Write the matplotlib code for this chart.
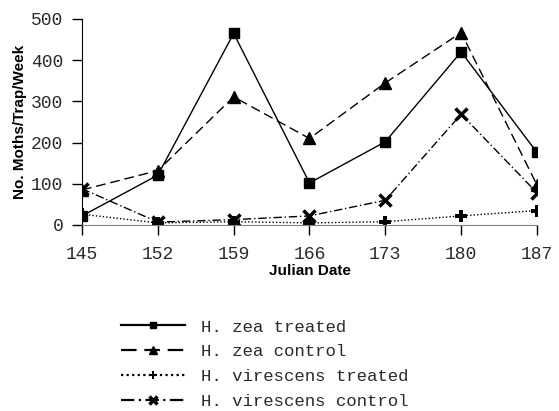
import matplotlib
matplotlib.use("Agg")
import matplotlib.pyplot as plt

# Julian dates and moth counts per trap per week
days = [145, 152, 159, 166, 173, 180, 187]
zea_treated = [22, 121, 465, 102, 202, 420, 176]
zea_control = [85, 132, 311, 210, 345, 467, 97]
vir_treated = [26, 5, 8, 5, 8, 22, 35]
vir_control = [88, 7, 13, 22, 60, 269, 78]

mono = "Liberation Mono"
ink = "#2a2a2a"

fig = plt.figure(figsize=(5.59, 4.11), dpi=100)
ax = fig.add_axes([0.1467, 0.4526, 0.8139, 0.5012])

l1, = ax.plot(days, zea_treated, color="black", lw=1.0, ls="-",
              marker="s", ms=7, label="H. zea treated")
l2, = ax.plot(days, zea_control, color="black", lw=1.0, ls=(0, (7, 3.5)),
              marker="^", ms=8, label="H. zea control")
l3, = ax.plot(days, vir_treated, color="black", lw=1.0, ls=(0, (1, 1.5)),
              marker="P", ms=9, mew=0, label="H. virescens treated")
l4, = ax.plot(days, vir_control, color="black", lw=1.0, ls=(0, (6, 2, 1, 2)),
              marker="x", ms=9, mew=2.5, label="H. virescens control")

ax.set_xlim(145, 187)
ax.set_ylim(0, 500)
ax.set_xticks(days)
ax.set_yticks([0, 100, 200, 300, 400, 500])
ax.spines["top"].set_visible(False)
ax.spines["right"].set_visible(False)
ax.spines["bottom"].set_color("#808080")
ax.tick_params(direction="out", length=7, width=1, colors="black",
               labelcolor=ink)
ax.tick_params(axis="x", pad=8)
ax.tick_params(axis="y", pad=6.5)
for lbl in ax.get_xticklabels() + ax.get_yticklabels():
    lbl.set_fontfamily(mono)
    lbl.set_fontsize(13)

ax.set_xlabel("Julian Date", fontweight="bold", fontsize=11,
              family="Liberation Sans", labelpad=1)
ax.set_ylabel("No. Moths/Trap/Week", fontweight="bold", fontsize=11,
              family="Liberation Sans", labelpad=3)

leg = fig.legend(handles=[l1, l2, l3, l4], loc="upper left",
                 bbox_to_anchor=(0.188, 0.261), frameon=False,
                 prop={"family": mono, "size": 12.5}, handlelength=3.7,
                 labelspacing=0.55, markerscale=0.65, handletextpad=0.95,
                 labelcolor=ink)
for ln in leg.get_lines():
    ln.set_linewidth(1.6)

plt.savefig("out.png", dpi=100)
